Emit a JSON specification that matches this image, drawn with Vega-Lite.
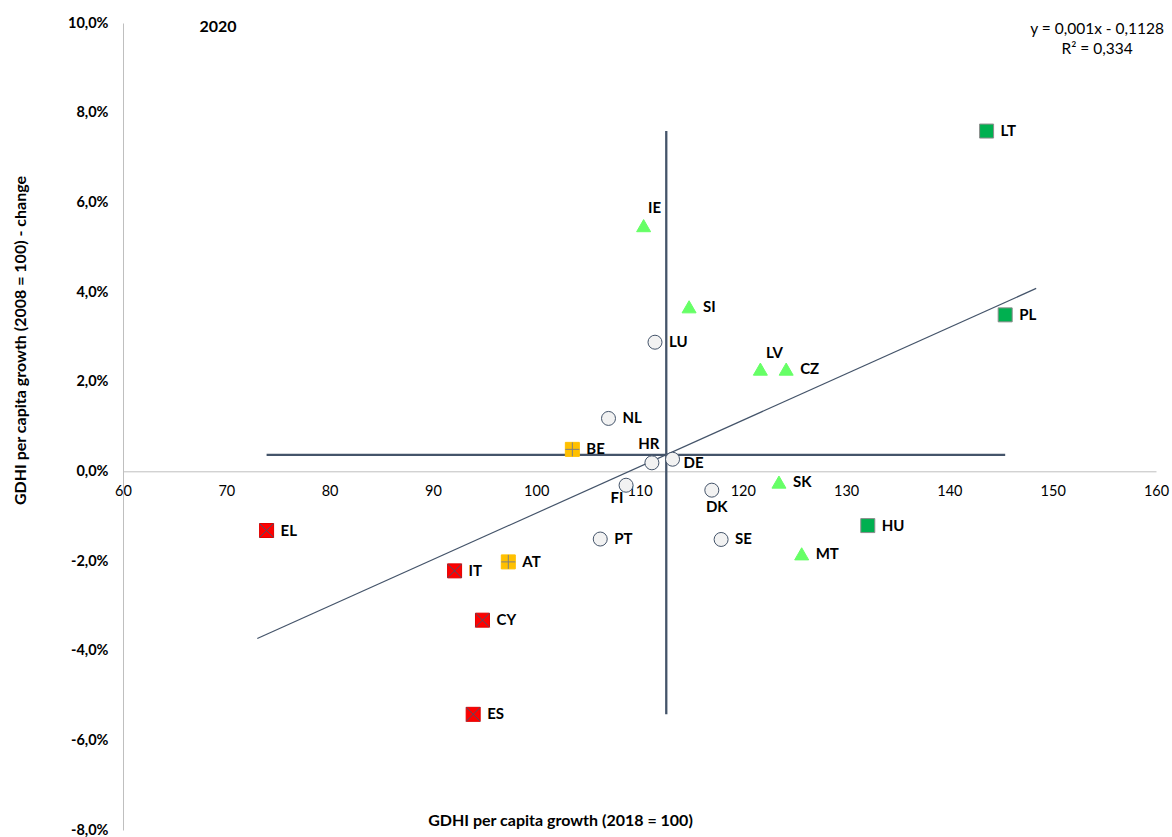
{
  "$schema": "https://vega.github.io/schema/vega-lite/v6.json",
  "width": 1033,
  "height": 807,
  "autosize": {"type": "none"},
  "padding": {"left": 123, "top": 23, "right": 16, "bottom": 7},
  "background": "white",
  "config": {"view": {"stroke": null}, "font": "Lato", "axis": {"grid": false}},
  "datasets": {
    "pts": [
      {"c": "LT", "x": 143.6, "y": 0.0759, "g": "A"},
      {"c": "PL", "x": 145.4, "y": 0.0349, "g": "A"},
      {"c": "HU", "x": 132.1, "y": -0.0121, "g": "A"},
      {"c": "IE", "x": 110.4, "y": 0.0548, "g": "B"},
      {"c": "SI", "x": 114.8, "y": 0.0367, "g": "B"},
      {"c": "LV", "x": 121.7, "y": 0.0228, "g": "B"},
      {"c": "CZ", "x": 124.2, "y": 0.0228, "g": "B"},
      {"c": "SK", "x": 123.5, "y": -0.0024, "g": "B"},
      {"c": "MT", "x": 125.7, "y": -0.0184, "g": "B"},
      {"c": "LU", "x": 111.5, "y": 0.0288, "g": "C"},
      {"c": "NL", "x": 107.0, "y": 0.0118, "g": "C"},
      {"c": "HR", "x": 111.2, "y": 0.0019, "g": "C"},
      {"c": "DE", "x": 113.2, "y": 0.0027, "g": "C"},
      {"c": "FI", "x": 108.7, "y": -0.0031, "g": "C"},
      {"c": "DK", "x": 117.0, "y": -0.0042, "g": "C"},
      {"c": "SE", "x": 117.9, "y": -0.0152, "g": "C"},
      {"c": "PT", "x": 106.2, "y": -0.0151, "g": "C"},
      {"c": "BE", "x": 103.5, "y": 0.0049, "g": "D"},
      {"c": "AT", "x": 97.3, "y": -0.0202, "g": "D"},
      {"c": "EL", "x": 73.9, "y": -0.0132, "g": "E"},
      {"c": "IT", "x": 92.1, "y": -0.0222, "g": "E"},
      {"c": "CY", "x": 94.8, "y": -0.0332, "g": "E"},
      {"c": "ES", "x": 93.9, "y": -0.0542, "g": "E"}
    ],
    "trend": [
      {"x": 73.0, "y": -0.0373},
      {"x": 148.4, "y": 0.0408}
    ],
    "notes": [
      {"x": 69.2, "y": 0.0991, "t": "2020", "k": "year"},
      {"x": 154.3, "y": 0.0987, "t": "y = 0,001x - 0,1128", "k": "eq"},
      {"x": 154.3, "y": 0.0942, "t": "R² = 0,334", "k": "eq"}
    ]
  },
  "layer": [
    {
      "data": {"name": "pts"},
      "mark": {"type": "rule", "color": "#44546A", "strokeWidth": 2.3},
      "encoding": {
        "x": {
          "aggregate": "mean", "field": "x", "type": "quantitative",
          "scale": {"domain": [60, 160], "nice": false, "zero": false},
          "axis": {
            "orient": "bottom",
            "offset": -358.7,
            "values": [60, 70, 80, 90, 100, 110, 120, 130, 140, 150, 160],
            "domainColor": "#BFBFBF",
            "domainWidth": 1,
            "ticks": false,
            "tickSize": 0,
            "labelPadding": 13,
            "labelFlush": false,
            "labelOverlap": false,
            "labelFontSize": 14.5,
            "labelColor": "#000000",
            "labelFont": "Lato",
            "title": "GDHI per capita growth (2018 = 100)",
            "titleFont": "Lato",
            "titleFontSize": 16,
            "titleFontWeight": "bold",
            "titleColor": "#000000",
            "titleX": 437,
            "titleY": 349,
            "titleAlign": "center",
            "titleBaseline": "middle"
          }
        },
        "y": {
          "aggregate": "min", "field": "y", "type": "quantitative",
          "scale": {"domain": [-0.08, 0.10], "nice": false, "zero": false},
          "axis": {
            "orient": "left",
            "values": [-0.08, -0.06, -0.04, -0.02, 0, 0.02, 0.04, 0.06, 0.08, 0.10],
            "labelExpr": "replace(replace(format(datum.value, '.1%'), '.', ','), '\u2212', '-')",
            "domainColor": "#BFBFBF",
            "domainWidth": 1,
            "ticks": false,
            "tickSize": 0,
            "labelPadding": 15,
            "labelFlush": false,
            "labelOverlap": false,
            "labelFontSize": 14.5,
            "labelFontWeight": "bold",
            "labelColor": "#000000",
            "labelFont": "Lato",
            "title": "GDHI per capita growth (2008 = 100) - change",
            "titleFont": "Lato",
            "titleFontSize": 16,
            "titleFontWeight": "bold",
            "titleColor": "#000000",
            "titleX": -103,
            "titleY": 317,
            "titleAngle": -90,
            "titleAlign": "center",
            "titleBaseline": "middle"
          }
        },
        "y2": {"aggregate": "max", "field": "y"}
      }
    },
    {
      "data": {"name": "pts"},
      "mark": {"type": "rule", "color": "#44546A", "strokeWidth": 2.3},
      "encoding": {
        "y": {"aggregate": "mean", "field": "y", "type": "quantitative"},
        "x": {"aggregate": "min", "field": "x", "type": "quantitative"},
        "x2": {"aggregate": "max", "field": "x"}
      }
    },
    {
      "data": {"name": "trend"},
      "mark": {"type": "line", "color": "#44546A", "strokeWidth": 1.2},
      "encoding": {
        "x": {"field": "x", "type": "quantitative"},
        "y": {"field": "y", "type": "quantitative"}
      }
    },
    {
      "data": {"name": "pts"},
      "mark": {"type": "point", "filled": true, "opacity": 1, "strokeWidth": 1, "size": 196},
      "encoding": {
        "x": {"field": "x", "type": "quantitative"},
        "y": {"field": "y", "type": "quantitative"},
        "shape": {"field": "g", "type": "nominal", "legend": null,
          "scale": {"domain": ["A", "B", "C", "D", "E"], "range": ["square", "triangle-up", "circle", "square", "square"]}},
        "fill": {"field": "g", "type": "nominal", "legend": null,
          "scale": {"domain": ["A", "B", "C", "D", "E"], "range": ["#00B050", "#66FF66", "#F2F2F2", "#FFC000", "#FF0000"]}},
        "stroke": {"field": "g", "type": "nominal", "legend": null,
          "scale": {"domain": ["A", "B", "C", "D", "E"], "range": ["#8C8C8C", "#66FF66", "#44546A", "#FFC000", "#E00000"]}}
      }
    },
    {
      "data": {"name": "pts"},
      "transform": [{"filter": "datum.g === 'E'"}],
      "mark": {"type": "point", "shape": "M-1,-1L1,1M-1,1L1,-1", "filled": false, "stroke": "#44546A", "strokeWidth": 1, "size": 196, "opacity": 1},
      "encoding": {
        "x": {"field": "x", "type": "quantitative"},
        "y": {"field": "y", "type": "quantitative"}
      }
    },
    {
      "data": {"name": "pts"},
      "transform": [{"filter": "datum.g === 'D'"}],
      "mark": {"type": "point", "shape": "M0,-1L0,1M-1,0L1,0", "filled": false, "stroke": "#7F7F7F", "strokeWidth": 1, "size": 196, "opacity": 1},
      "encoding": {
        "x": {"field": "x", "type": "quantitative"},
        "y": {"field": "y", "type": "quantitative"}
      }
    },
    {
      "data": {"name": "pts"},
      "transform": [{"filter": "indexof(['IE','LV','HR','DE','FI','DK'], datum.c) < 0"}],
      "mark": {"type": "text", "align": "left", "baseline": "middle", "dx": 14, "dy": 0, "font": "Lato", "fontSize": 15, "fontWeight": "bold", "color": "#000000"},
      "encoding": {
        "x": {"field": "x", "type": "quantitative"},
        "y": {"field": "y", "type": "quantitative"},
        "text": {"field": "c"}
      }
    },
    {
      "data": {"name": "pts"},
      "transform": [{"filter": "datum.c === 'IE'"}],
      "mark": {"type": "text", "align": "center", "baseline": "middle", "dx": 11, "dy": -18, "font": "Lato", "fontSize": 15, "fontWeight": "bold", "color": "#000000"},
      "encoding": {"x": {"field": "x", "type": "quantitative"}, "y": {"field": "y", "type": "quantitative"}, "text": {"field": "c"}}
    },
    {
      "data": {"name": "pts"},
      "transform": [{"filter": "datum.c === 'LV'"}],
      "mark": {"type": "text", "align": "center", "baseline": "middle", "dx": 14, "dy": -16, "font": "Lato", "fontSize": 15, "fontWeight": "bold", "color": "#000000"},
      "encoding": {"x": {"field": "x", "type": "quantitative"}, "y": {"field": "y", "type": "quantitative"}, "text": {"field": "c"}}
    },
    {
      "data": {"name": "pts"},
      "transform": [{"filter": "datum.c === 'HR'"}],
      "mark": {"type": "text", "align": "center", "baseline": "middle", "dx": -3, "dy": -19, "font": "Lato", "fontSize": 15, "fontWeight": "bold", "color": "#000000"},
      "encoding": {"x": {"field": "x", "type": "quantitative"}, "y": {"field": "y", "type": "quantitative"}, "text": {"field": "c"}}
    },
    {
      "data": {"name": "pts"},
      "transform": [{"filter": "datum.c === 'DE'"}],
      "mark": {"type": "text", "align": "left", "baseline": "middle", "dx": 11, "dy": 4, "font": "Lato", "fontSize": 15, "fontWeight": "bold", "color": "#000000"},
      "encoding": {"x": {"field": "x", "type": "quantitative"}, "y": {"field": "y", "type": "quantitative"}, "text": {"field": "c"}}
    },
    {
      "data": {"name": "pts"},
      "transform": [{"filter": "datum.c === 'FI'"}],
      "mark": {"type": "text", "align": "center", "baseline": "middle", "dx": -9, "dy": 13, "font": "Lato", "fontSize": 15, "fontWeight": "bold", "color": "#000000"},
      "encoding": {"x": {"field": "x", "type": "quantitative"}, "y": {"field": "y", "type": "quantitative"}, "text": {"field": "c"}}
    },
    {
      "data": {"name": "pts"},
      "transform": [{"filter": "datum.c === 'DK'"}],
      "mark": {"type": "text", "align": "center", "baseline": "middle", "dx": 5, "dy": 17, "font": "Lato", "fontSize": 15, "fontWeight": "bold", "color": "#000000"},
      "encoding": {"x": {"field": "x", "type": "quantitative"}, "y": {"field": "y", "type": "quantitative"}, "text": {"field": "c"}}
    },
    {
      "data": {"name": "notes"},
      "transform": [{"filter": "datum.k === 'year'"}],
      "mark": {"type": "text", "align": "center", "baseline": "middle", "font": "Lato", "fontSize": 16, "fontWeight": "bold", "color": "#000000", "clip": false},
      "encoding": {"x": {"field": "x", "type": "quantitative"}, "y": {"field": "y", "type": "quantitative"}, "text": {"field": "t"}}
    },
    {
      "data": {"name": "notes"},
      "transform": [{"filter": "datum.k === 'eq'"}],
      "mark": {"type": "text", "align": "center", "baseline": "middle", "font": "Lato", "fontSize": 15.5, "fontWeight": "normal", "color": "#000000", "clip": false},
      "encoding": {"x": {"field": "x", "type": "quantitative"}, "y": {"field": "y", "type": "quantitative"}, "text": {"field": "t"}}
    }
  ]
}
